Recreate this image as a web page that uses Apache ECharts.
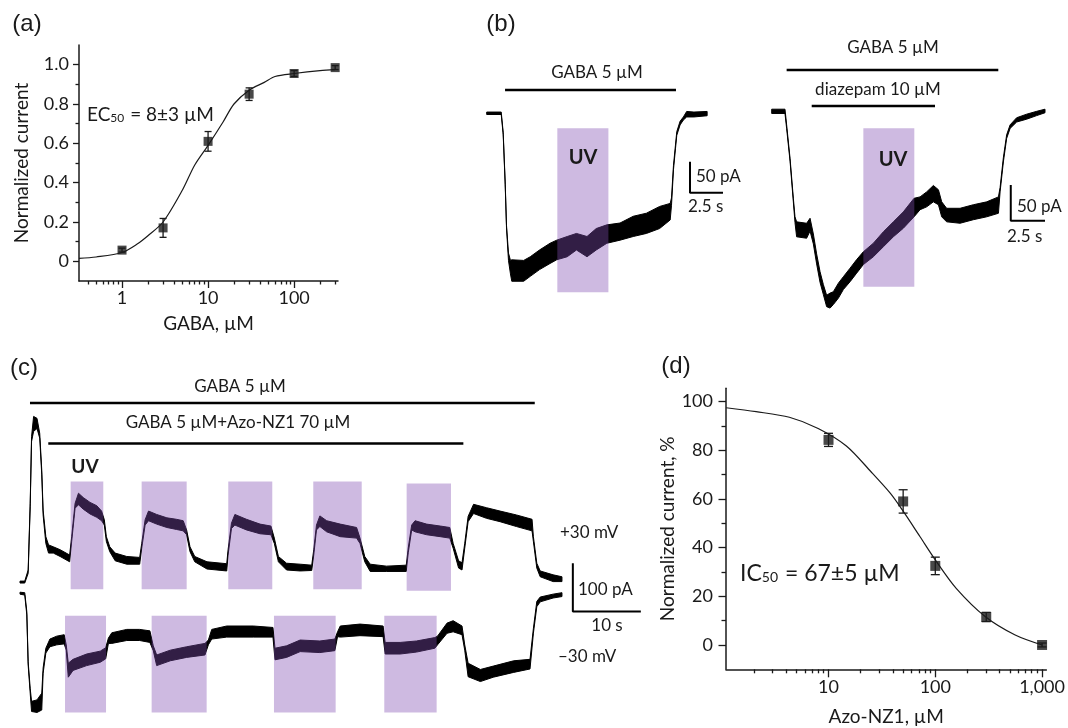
<!DOCTYPE html>
<html>
<head>
<meta charset="utf-8">
<script src="https://cdn.jsdelivr.net/npm/echarts@6/dist/echarts.min.js"></script>
<style>
  html, body { margin: 0; padding: 0; background: #fff; }
  #chart { width: 1068px; height: 728px; }
</style>
</head>
<body>
<div id="chart"></div>
<script>
// ---- (a) GABA dose-response ----
var aConc = [1, 3, 10, 30, 100, 300];
var aCurrent = [0.057, 0.17, 0.61, 0.85, 0.955, 0.985];
var aErr = [0.01, 0.048, 0.05, 0.032, 0.015, 0.01];
var aFitConc = [0.316, 0.5, 1, 1.5, 2, 3, 5, 7, 10, 15, 20, 30, 45, 60, 100, 200, 300];
var aFitCurrent = [0.015, 0.022, 0.045, 0.088, 0.13, 0.2, 0.36, 0.49, 0.59, 0.71, 0.8, 0.87, 0.91, 0.94, 0.955, 0.97, 0.975];
var aXTicks = [1, 10, 100];
var aXLabels = ['1', '10', '100'];
var aYTicks = [0, 0.2, 0.4, 0.6, 0.8, 1.0];
var aYLabels = ['0', '0.2', '0.4', '0.6', '0.8', '1.0'];

// ---- (b) traces, time in s, current in pA (noise band: high/low edges) ----
var b1Time = [0, 1.1, 1.25, 1.4, 1.5, 1.65, 1.8, 1.9, 2.8, 3.3, 4.0, 4.8, 5.3, 6.1, 6.8, 7.6, 8.3, 9.1, 10.1, 11.1, 12.1, 13.1, 13.9, 14.0, 14.15, 14.3, 14.4, 14.65, 14.9, 15.15, 15.7, 16.7];
var b1High = [2, 2, -31, -112, -183, -228, -240, -239, -240, -234, -223, -212, -207, -201, -196, -201, -188, -182, -179, -168, -163, -152, -147, -138, -85, -52, -30, -13, -6, 3, 2, 3];
var b1Low = [-2, -2, -35, -116, -187, -240, -262, -274, -274, -266, -255, -245, -239, -234, -223, -234, -223, -212, -207, -201, -196, -188, -174, -150, -92, -58, -36, -19, -11, -6, -6, -4];
var b1UV = [[5.35, 9.22, -292, -24.5]];

var b2Time = [0, 0.97, 1.09, 1.34, 1.58, 1.70, 1.82, 2.55, 2.80, 3.04, 3.28, 3.53, 3.77, 4.01, 4.26, 4.50, 4.87, 5.23, 5.72, 6.20, 6.69, 7.42, 8.15, 8.88, 9.61, 10.39, 10.83, 11.31, 11.80, 12.17, 12.41, 12.77, 13.75, 14.72, 15.69, 16.55, 16.67, 16.91, 17.15, 17.40, 17.88, 18.61, 19.34, 19.95];
var b2High = [3, 3, -19, -66, -122, -148, -155, -157, -150, -172, -200, -225, -243, -258, -255, -253, -241, -232, -220, -208, -197, -185, -169, -155, -141, -122, -120, -113, -104, -110, -127, -136, -136, -131, -127, -120, -107, -65, -33, -19, -9, -4, 0, 3];
var b2Low = [-3, -3, -24, -70, -127, -156, -176, -178, -168, -186, -214, -240, -257, -274, -276, -271, -262, -250, -239, -227, -215, -204, -190, -176, -164, -148, -138, -134, -127, -131, -148, -155, -157, -152, -148, -143, -113, -71, -38, -24, -15, -11, -6, -2];
var b2UV = [[6.69, 10.41, -246, -23.8]];

// ---- (c) traces at +30 mV and -30 mV ----
var cUpTime = [0, 0.7, 1.2, 1.5, 1.7, 2.0, 2.5, 2.9, 3.2, 3.4, 3.8, 4.2, 4.9, 5.9, 7.3, 7.6, 8.1, 8.6, 9.3, 10.3, 11.3, 12.0, 12.4, 12.7, 13.2, 14.0, 15.7, 17.6, 17.9, 18.4, 18.9, 20.1, 21.6, 23.0, 24.0, 24.5, 25.0, 25.7, 27.5, 30.4, 30.6, 31.1, 31.6, 33.3, 35.3, 36.9, 37.4, 38.0, 39.2, 41.2, 42.9, 43.2, 43.6, 44.1, 45.1, 47.1, 49.5, 50.0, 50.7, 51.5, 53.9, 56.8, 57.1, 57.6, 58.1, 59.8, 61.8, 63.2, 63.7, 64.5, 65.0, 65.4, 65.9, 66.7, 68.6, 70.6, 73.0, 75.3, 75.5, 76.0, 76.5, 78.4, 79.7];
var cUpHigh = [39, 39, 62, 200, 338, 380, 376, 345, 269, 186, 131, 114, 110, 104, 93, 131, 200, 221, 212, 202, 195, 184, 166, 131, 110, 97, 90, 88, 117, 166, 184, 177, 170, 167, 164, 145, 110, 90, 79, 75, 104, 159, 177, 167, 157, 153, 128, 90, 76, 74, 72, 104, 155, 174, 164, 157, 150, 128, 90, 74, 70, 72, 108, 155, 164, 157, 153, 150, 117, 81, 77, 117, 173, 198, 191, 184, 176, 167, 131, 76, 60, 52, 48];
var cUpLow = [35, 35, 55, 193, 328, 349, 355, 335, 259, 176, 117, 97, 97, 90, 79, 121, 190, 197, 188, 178, 171, 164, 155, 121, 100, 81, 74, 74, 107, 155, 164, 157, 150, 146, 143, 135, 100, 79, 64, 60, 93, 148, 155, 145, 137, 135, 117, 79, 62, 60, 61, 93, 145, 152, 141, 131, 128, 117, 79, 59, 59, 59, 98, 145, 141, 135, 131, 128, 107, 66, 62, 107, 162, 179, 169, 162, 152, 143, 121, 66, 48, 38, 38];
var cDnTime = [0, 0.7, 1.0, 1.2, 1.5, 1.7, 2.5, 3.2, 3.4, 3.8, 4.4, 5.4, 6.5, 6.8, 7.1, 7.8, 9.8, 11.8, 12.6, 13.0, 13.5, 15.7, 17.6, 19.1, 19.6, 20.1, 22.1, 24.5, 27.2, 27.7, 28.2, 30.4, 34.3, 37.2, 37.5, 39.2, 41.2, 44.1, 46.3, 46.7, 47.1, 50.0, 53.4, 53.7, 55.9, 58.3, 61.0, 61.4, 62.8, 63.7, 65.0, 65.4, 65.9, 67.7, 69.6, 72.6, 75.0, 75.5, 76.0, 76.5, 78.4, 79.7];
var cDnHigh = [16, 15, -24, -128, -183, -210, -207, -193, -141, -100, -81, -75, -72, -93, -131, -123, -112, -106, -99, -79, -68, -61, -61, -64, -95, -114, -104, -97, -90, -83, -61, -54, -54, -57, -100, -95, -83, -85, -81, -66, -54, -50, -54, -88, -88, -85, -78, -75, -48, -43, -54, -93, -131, -144, -137, -126, -123, -59, -3, 6, 12, 15];
var cDnLow = [12, 10, -31, -135, -193, -231, -233, -228, -152, -110, -97, -93, -91, -104, -160, -146, -136, -129, -122, -90, -90, -84, -84, -88, -105, -136, -126, -119, -114, -93, -81, -77, -77, -77, -124, -119, -107, -109, -105, -76, -77, -74, -76, -112, -112, -108, -100, -93, -69, -66, -72, -104, -159, -169, -160, -150, -143, -69, -14, -4, 4, 7];
var cUV = [
  [7.45, 12.25, 22, 245], [17.89, 24.51, 22, 245], [30.63, 37.10, 22, 245], [43.13, 50.25, 22, 245], [56.86, 63.38, 19, 241],
  [6.62, 12.65, -233, -33], [19.36, 27.45, -233, -33], [37.35, 46.42, -233, -33], [53.57, 61.27, -233, -33]
];

// ---- (d) Azo-NZ1 inhibition ----
var dConc = [10, 50, 100, 300, 1000];
var dCurrent = [84.3, 59, 32.5, 11.5, 0];
var dErr = [2.7, 4.8, 3.6, 1.9, 0.8];
var dFitConc = [1.1, 2.1, 4.3, 8, 14.7, 25, 38, 50, 72, 100, 157, 295, 560, 1000];
var dFitCurrent = [97.5, 95.9, 93.6, 89, 81.8, 71.2, 62.3, 55, 44.5, 35, 23.3, 11.6, 4.1, 0];
var dXTicks = [10, 100, 1000];
var dXLabels = ['10', '100', '1,000'];
var dYTicks = [0, 20, 40, 60, 80, 100];
var dYLabels = ['0', '20', '40', '60', '80', '100'];

var INK = '#1a1a1a';
var FONT = 'Lato, "Open Sans", sans-serif';
var UV_FILL = 'rgba(128, 77, 179, 0.39)';

function logMinor(lo, hi) {
  var out = [];
  for (var d = Math.floor(lo) - 1; d <= Math.ceil(hi); d++) {
    for (var k = 2; k <= 9; k++) {
      var v = d + Math.log10(k);
      if (v > lo && v < hi) out.push(v);
    }
  }
  return out;
}

function axisPair(dim, gridIndex, min, max, majors, labels, minors, o) {
  var base = { type: 'value', gridIndex: gridIndex, min: min, max: max,
    position: dim === 'x' ? 'bottom' : 'left', splitLine: { show: false } };
  var minor = Object.assign({}, base, {
    axisLine: { show: false, onZero: false },
    axisTick: { show: true, length: o.minorLen, customValues: minors, lineStyle: { color: INK, width: 1.3 } },
    axisLabel: { show: false }
  });
  var major = Object.assign({}, base, {
    axisLine: { show: true, onZero: false, lineStyle: { color: INK, width: 1.5 } },
    axisTick: { show: true, length: o.majorLen, customValues: majors, lineStyle: { color: INK, width: 1.3 } },
    axisLabel: {
      show: true, customValues: majors, margin: o.margin, fontSize: 18, fontFamily: FONT, color: INK,
      formatter: function (v) {
        var i = majors.findIndex(function (m) { return Math.abs(m - v) < 1e-6; });
        return i < 0 ? '' : labels[i];
      }
    },
    name: o.name, nameLocation: 'middle', nameGap: o.nameGap,
    nameTextStyle: { fontSize: 19, fontFamily: FONT, color: INK }
  });
  return [minor, major];
}

function hiddenAxis(gridIndex, min, max) {
  return { type: 'value', gridIndex: gridIndex, min: min, max: max, show: false };
}

// noisy recording drawn as a filled band between its upper and lower edge
function traceSeries(time, high, low, xi, yi) {
  return {
    type: 'custom', xAxisIndex: xi, yAxisIndex: yi, z: 2, clip: false, silent: true,
    data: time.map(function (t, i) { return [t, high[i], low[i]]; }),
    encode: { x: 0, y: [1, 2] },
    renderItem: function (params, api) {
      if (params.dataIndex !== 0) return null;
      var pts = [];
      for (var i = 0; i < time.length; i++) pts.push(api.coord([time[i], high[i]]));
      for (var j = time.length - 1; j >= 0; j--) pts.push(api.coord([time[j], low[j]]));
      return { type: 'polygon', shape: { points: pts },
        style: { fill: '#000', stroke: '#000', lineWidth: 1, lineJoin: 'round' } };
    }
  };
}

function lineMark(points, xi, yi, width) {
  return { type: 'line', xAxisIndex: xi, yAxisIndex: yi, data: points, showSymbol: false, symbol: 'none',
    clip: false, silent: true, z: 6, lineStyle: { color: '#000', width: width } };
}

function uvSeries(rects, xi, yi) {
  return {
    type: 'custom', xAxisIndex: xi, yAxisIndex: yi, data: rects, z: 3, clip: false, silent: true,
    encode: { x: [0, 1], y: [2, 3] },
    renderItem: function (params, api) {
      var p0 = api.coord([api.value(0), api.value(3)]);
      var p1 = api.coord([api.value(1), api.value(2)]);
      return { type: 'rect', shape: { x: p0[0], y: p0[1], width: p1[0] - p0[0], height: p1[1] - p0[1] },
        style: { fill: UV_FILL } };
    }
  };
}

function errorBars(data, xi, yi, cap) {
  return {
    type: 'custom', xAxisIndex: xi, yAxisIndex: yi, data: data, z: 4, clip: false, silent: true,
    encode: { x: 0, y: 1 },
    renderItem: function (params, api) {
      var x = api.value(0), y = api.value(1), e = api.value(2);
      var t = api.coord([x, y + e]), b = api.coord([x, y - e]);
      var st = { stroke: INK, lineWidth: 1.3 };
      return { type: 'group', children: [
        { type: 'line', shape: { x1: t[0], y1: t[1], x2: b[0], y2: b[1] }, style: st },
        { type: 'line', shape: { x1: t[0] - cap, y1: t[1], x2: t[0] + cap, y2: t[1] }, style: st },
        { type: 'line', shape: { x1: b[0] - cap, y1: b[1], x2: b[0] + cap, y2: b[1] }, style: st }
      ] };
    }
  };
}

function text(x, y, str, o) {
  o = o || {};
  return { type: 'text', x: x, y: y, z: 100, silent: true,
    style: { text: str, fill: INK, fontFamily: o.family || FONT, fontSize: o.size || 17,
      fontWeight: o.weight || 'normal', align: o.align || 'center', verticalAlign: 'middle', rich: o.rich } };
}

function subText(x, y, pre, sub, post, size) {
  var rich = {
    n: { fontSize: size, fontFamily: FONT, fill: INK, lineHeight: size * 1.3, verticalAlign: 'bottom' },
    s: { fontSize: Math.round(size * 0.62), fontFamily: FONT, fill: INK, lineHeight: size * 1.3, verticalAlign: 'bottom', padding: [0, 1, 0, 0] }
  };
  return text(x, y, '{n|' + pre + '}{s|' + sub + '}{n|' + post + '}', { align: 'left', rich: rich, size: size });
}

var log = Math.log10;
var aX = axisPair('x', 0, -0.5, 2.51, aXTicks.map(log), aXLabels, logMinor(-0.5, 2.51),
  { minorLen: 3.5, majorLen: 7, margin: 8, name: 'GABA, \u00b5M', nameGap: 33 });
var aY = axisPair('y', 0, -0.1, 1.1, aYTicks, aYLabels, [0.1, 0.3, 0.5, 0.7, 0.9],
  { minorLen: 3.5, majorLen: 6, margin: 10, name: 'Normalized current', nameGap: 48 });
var dX = axisPair('x', 4, 0.04, 3.04, dXTicks.map(log), dXLabels, logMinor(0.04, 3.04),
  { minorLen: 4, majorLen: 8, margin: 9, name: 'Azo-NZ1, \u00b5M', nameGap: 38 });
var dY = axisPair('y', 4, -10, 105.5, dYTicks, dYLabels, [10, 30, 50, 70, 90],
  { minorLen: 4.5, majorLen: 7.5, margin: 13, name: 'Normalized current, %', nameGap: 46 });

var series = [
  // (a)
  { type: 'line', xAxisIndex: 1, yAxisIndex: 1, smooth: 0.3, showSymbol: false, symbol: 'none', z: 3,
    lineStyle: { color: INK, width: 1.2 },
    data: aFitConc.map(function (c, i) { return [log(c), aFitCurrent[i]]; }) },
  errorBars(aConc.map(function (c, i) { return [log(c), aCurrent[i], aErr[i]]; }), 1, 1, 3.5),
  { type: 'scatter', xAxisIndex: 1, yAxisIndex: 1, symbol: 'rect', symbolSize: 9, z: 5,
    itemStyle: { color: INK }, data: aConc.map(function (c, i) { return [log(c), aCurrent[i]]; }) },
  // (b)
  traceSeries(b1Time, b1High, b1Low, 2, 2),
  uvSeries(b1UV, 2, 2),
  lineMark([[1.39, 38], [14.34, 38]], 2, 2, 2.5),
  lineMark([[15.4, -79], [15.4, -129.5], [17.9, -129.5]], 2, 2, 2),
  traceSeries(b2Time, b2High, b2Low, 3, 3),
  uvSeries(b2UV, 3, 3),
  lineMark([[1.09, 57.9], [16.54, 57.9]], 3, 3, 2.5),
  lineMark([[2.92, 7.4], [11.92, 7.4]], 3, 3, 2.5),
  lineMark([[17.45, -103.4], [17.45, -153.4], [19.95, -153.4]], 3, 3, 2),
  // (c)
  traceSeries(cUpTime, cUpHigh, cUpLow, 4, 4),
  traceSeries(cDnTime, cDnHigh, cDnLow, 4, 4),
  uvSeries(cUV, 4, 4),
  lineMark([[1.47, 408], [75.7, 408]], 4, 4, 2.5),
  lineMark([[4.16, 324], [65.2, 324]], 4, 4, 2.5),
  lineMark([[81.3, 76], [81.3, -24], [91.3, -24]], 4, 4, 2),
  // (d)
  { type: 'line', xAxisIndex: 6, yAxisIndex: 6, smooth: 0.3, showSymbol: false, symbol: 'none', z: 3,
    lineStyle: { color: INK, width: 1.2 },
    data: dFitConc.map(function (c, i) { return [log(c), dFitCurrent[i]]; }) },
  errorBars(dConc.map(function (c, i) { return [log(c), dCurrent[i], dErr[i]]; }), 6, 6, 4.5),
  { type: 'scatter', xAxisIndex: 6, yAxisIndex: 6, symbol: 'rect', symbolSize: 10, z: 5,
    itemStyle: { color: INK }, data: dConc.map(function (c, i) { return [log(c), dCurrent[i]]; }) }
];

var PANEL = { family: '"Liberation Sans", Arial, sans-serif', size: 24 };

var option = {
  animation: false,
  backgroundColor: '#ffffff',
  grid: [
    { left: 79, top: 45, width: 259, height: 236 },
    { left: 486.7, top: 76.5, width: 250.8, height: 220.7 },
    { left: 771.7, top: 54.3, width: 287.7, height: 270.9 },
    { left: 20, top: 397.1, width: 646, height: 328.4 },
    { left: 726, top: 388.3, width: 326, height: 281 }
  ],
  xAxis: [aX[0], aX[1], hiddenAxis(1, 0, 19), hiddenAxis(2, 0, 21), hiddenAxis(3, 0, 95), dX[0], dX[1]],
  yAxis: [aY[0], aY[1], hiddenAxis(1, -300, 60), hiddenAxis(2, -300, 80), hiddenAxis(3, -260, 420), dY[0], dY[1]],
  series: series,
  graphic: { elements: [
    text(27, 24, '(a)', PANEL),
    subText(87, 112, 'EC', '50', ' = 8\u00b13 \u00b5M', 19),
    text(501, 24, '(b)', PANEL),
    text(597, 73, 'GABA 5 \u00b5M'),
    text(583, 158, 'UV', { weight: 'bold', size: 20 }),
    text(696, 177, '50 pA', { align: 'left' }),
    text(688, 207, '2.5 s', { align: 'left' }),
    text(893, 48, 'GABA 5 \u00b5M'),
    text(878, 90, 'diazepam 10 \u00b5M'),
    text(893, 160, 'UV', { weight: 'bold', size: 20 }),
    text(1017, 207, '50 pA', { align: 'left' }),
    text(1007, 237, '2.5 s', { align: 'left' }),
    text(24, 368, '(c)', PANEL),
    text(240, 387, 'GABA 5 \u00b5M'),
    text(238, 423, 'GABA 5 \u00b5M+Azo-NZ1 70 \u00b5M'),
    text(85, 467, 'UV', { weight: 'bold', size: 19 }),
    text(560, 533, '+30 mV', { align: 'left' }),
    text(558, 657, '\u201330 mV', { align: 'left' }),
    text(578, 590, '100 pA', { align: 'left' }),
    text(607, 626, '10 s'),
    text(676, 366, '(d)', PANEL),
    subText(740, 570, 'IC', '50', ' = 67\u00b15 \u00b5M', 23)
  ] }
};

var chart = echarts.init(document.getElementById('chart'), null, { renderer: 'canvas' });
chart.setOption(option);
</script>
</body>
</html>
